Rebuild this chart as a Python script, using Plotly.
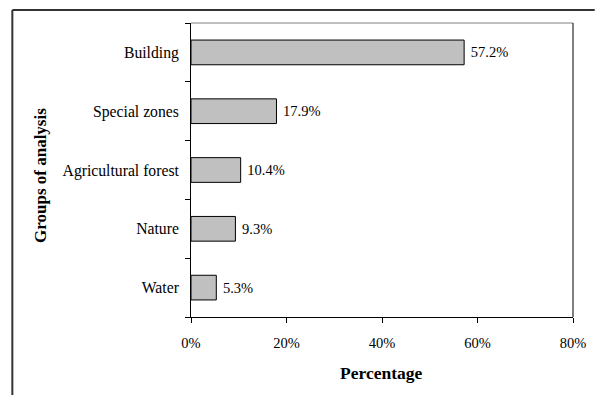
import plotly.graph_objects as go

# Share of each analysis group
groups = ["Building", "Special zones", "Agricultural forest", "Nature", "Water"]
shares = [57.2, 17.9, 10.4, 9.3, 5.3]
x_ticks = [0, 20, 40, 60, 80]
x_tick_labels = ["0%", "20%", "40%", "60%", "80%"]

W, H = 598, 395
L, R, T, B = 191, 20, 23, 78
pw, ph = W - L - R, H - T - B

def px_x(px):
    return (px - L) / pw

def px_y(py):
    return 1 - (py - T) / ph

serif = "Liberation Serif, Times New Roman, serif"

fig = go.Figure(
    go.Bar(
        x=shares,
        y=groups,
        orientation="h",
        marker=dict(color="#c0c0c0", line=dict(color="#000000", width=1)),
        text=[f"\u00a0{v:.1f}%" for v in shares],
        textposition="outside",
        textfont=dict(family=serif, size=14.5, color="#000000"),
        cliponaxis=False,
    )
)

fig.update_layout(
    width=W,
    height=H,
    margin=dict(l=L, r=R, t=T, b=B, pad=0),
    paper_bgcolor="white",
    plot_bgcolor="white",
    bargap=0.58,
    showlegend=False,
    font=dict(family=serif, color="#000000"),
    xaxis=dict(
        range=[0, 80],
        tickvals=x_ticks,
        ticktext=x_tick_labels,
        ticks="outside",
        ticklen=5,
        tickcolor="#000000",
        showline=True,
        linecolor="#000000",
        linewidth=1,
        showgrid=False,
        zeroline=False,
        tickfont=dict(family=serif, size=14.5),
        ticklabelstandoff=8,
        fixedrange=True,
    ),
    yaxis=dict(
        categoryorder="array",
        categoryarray=groups[::-1],
        tickson="boundaries",
        ticks="outside",
        ticklen=5,
        tickcolor="#000000",
        showline=True,
        linecolor="#000000",
        linewidth=1,
        showgrid=False,
        zeroline=False,
        tickfont=dict(family=serif, size=15.7),
        ticklabelstandoff=8,
        fixedrange=True,
    ),
    annotations=[
        dict(
            text="<b>Percentage</b>",
            xref="paper", yref="paper",
            x=px_x(384), y=px_y(373),
            xanchor="center", yanchor="middle",
            showarrow=False,
            font=dict(family=serif, size=17.5),
        ),
        dict(
            text="<b>Groups of analysis</b>",
            xref="paper", yref="paper",
            x=px_x(38), y=px_y(175),
            xanchor="center", yanchor="middle",
            textangle=-90,
            showarrow=False,
            font=dict(family=serif, size=17),
        ),
    ],
    shapes=[
        # plot area top and right borders
        dict(type="line", xref="paper", yref="paper", x0=0, x1=1, y0=1, y1=1,
             line=dict(color="#808080", width=1)),
        dict(type="line", xref="paper", yref="paper", x0=1, x1=1, y0=0, y1=1,
             line=dict(color="#000000", width=1)),
        # outer chart frame (top and left edges)
        dict(type="line", xref="paper", yref="paper",
             x0=px_x(10), x1=px_x(600), y0=px_y(10), y1=px_y(10),
             line=dict(color="#333333", width=2)),
        dict(type="line", xref="paper", yref="paper",
             x0=px_x(10), x1=px_x(10), y0=px_y(10), y1=px_y(400),
             line=dict(color="#333333", width=2)),
    ],
)

fig.write_html("out.html")
